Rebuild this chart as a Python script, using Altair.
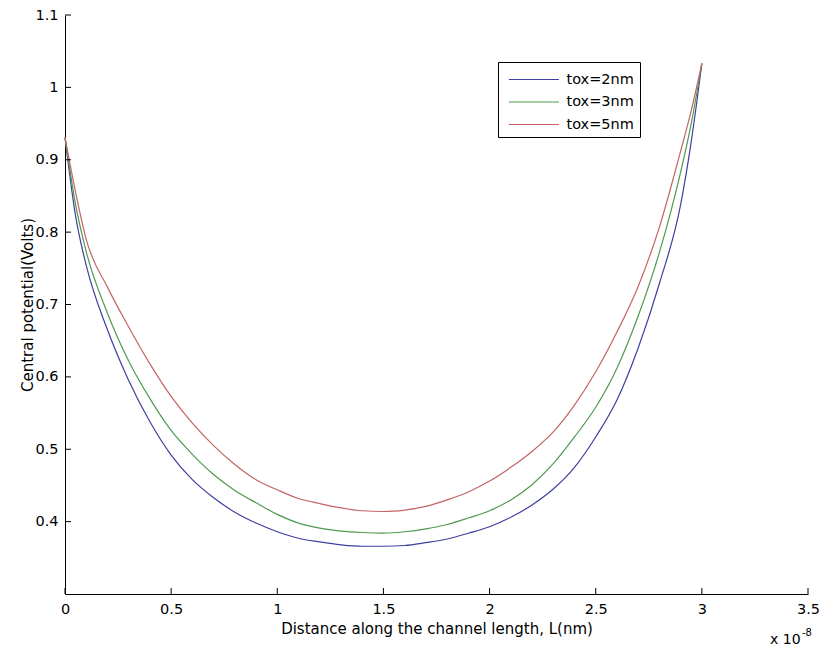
import altair as alt
import pandas as pd

# distance along channel (x 1e-8 m)
x_pos = [0.0, 0.05, 0.1, 0.2, 0.3, 0.4, 0.5, 0.6, 0.7, 0.8, 0.9, 1.0,
         1.1, 1.2, 1.3, 1.4, 1.5, 1.6, 1.7, 1.8, 1.9, 2.0,
         2.1, 2.2, 2.3, 2.4, 2.5, 2.6, 2.7, 2.8, 2.9, 2.95, 3.0]

tox2 = [0.931, 0.822, 0.754, 0.665, 0.595, 0.538, 0.492, 0.458, 0.433, 0.413, 0.398, 0.386,
        0.377, 0.372, 0.368, 0.366, 0.366, 0.367, 0.371, 0.376, 0.384, 0.393,
        0.406, 0.423, 0.445, 0.475, 0.517, 0.568, 0.640, 0.729, 0.838, 0.925, 1.033]

tox3 = [0.931, 0.838, 0.773, 0.688, 0.622, 0.570, 0.526, 0.493, 0.465, 0.443, 0.426, 0.410,
        0.398, 0.391, 0.387, 0.385, 0.384, 0.386, 0.390, 0.396, 0.405, 0.415,
        0.430, 0.451, 0.480, 0.517, 0.558, 0.612, 0.684, 0.772, 0.883, 0.950, 1.033]

tox5 = [0.931, 0.855, 0.790, 0.724, 0.669, 0.618, 0.573, 0.536, 0.505, 0.479, 0.458, 0.444,
        0.432, 0.425, 0.419, 0.415, 0.414, 0.416, 0.421, 0.430, 0.441, 0.456,
        0.475, 0.497, 0.524, 0.561, 0.607, 0.662, 0.725, 0.807, 0.912, 0.968, 1.033]

series_names = ["tox=2nm", "tox=3nm", "tox=5nm"]
series_colors = ["#3f3fa0", "#4f9a4f", "#c46464"]

x_ticks = [0, 0.5, 1, 1.5, 2, 2.5, 3, 3.5]
y_ticks = [0.4, 0.5, 0.6, 0.7, 0.8, 0.9, 1.0, 1.1]

rows = []
for name, vals in zip(series_names, [tox2, tox3, tox5]):
    for xv, yv in zip(x_pos, vals):
        rows.append({"x": xv, "v": yv, "series": name})
df = pd.DataFrame(rows)

FONT = "DejaVu Sans"
xscale = alt.Scale(domain=[0, 3.5], nice=False, zero=False)
yscale = alt.Scale(domain=[0.3, 1.1], nice=False, zero=False)

x_axis = alt.Axis(values=x_ticks, format="~g", ticks=False, grid=False,
                  title="Distance along the channel length, L(nm)",
                  labelPadding=8, titlePadding=6, labelFlush=False)
y_axis = alt.Axis(values=y_ticks, format="~g", ticks=False, grid=False,
                  title="Central potential(Volts)",
                  labelPadding=7, titlePadding=-1, labelFlush=False)

lines = alt.Chart(df).mark_line(strokeWidth=1.2, interpolate="monotone").encode(
    x=alt.X("x:Q", scale=xscale, axis=x_axis),
    y=alt.Y("v:Q", scale=yscale, axis=y_axis),
    color=alt.Color("series:N",
                    scale=alt.Scale(domain=series_names, range=series_colors),
                    legend=alt.Legend(title=None, orient="none", legendX=433, legendY=47,
                                      symbolType="M-0.6,0H3.95", symbolSize=484,
                                      symbolStrokeWidth=1.2,
                                      labelFont=FONT, labelFontSize=14.5,
                                      labelColor="#000000",
                                      strokeColor="#000000", fillColor="#ffffff",
                                      padding=5.5, rowPadding=3.5, labelOffset=39)),
    order=alt.Order("x:Q"),
)

xt = pd.DataFrame({"x": x_ticks})
yt = pd.DataFrame({"v": y_ticks})

xtick_marks = alt.Chart(xt).mark_rule(color="#000000", strokeWidth=1).encode(
    x=alt.X("x:Q", scale=xscale, axis=x_axis),
    y=alt.value(579), y2=alt.value(573),
)
ytick_marks = alt.Chart(yt).mark_rule(color="#000000", strokeWidth=1).encode(
    y=alt.Y("v:Q", scale=yscale, axis=y_axis),
    x=alt.value(0), x2=alt.value(6),
)

exp_base = alt.Chart(pd.DataFrame({"s": ["x 10"]})).mark_text(
    align="left", baseline="alphabetic", font=FONT, fontSize=14, color="#000000"
).encode(text="s:N", x=alt.value(705), y=alt.value(629))
exp_sup = alt.Chart(pd.DataFrame({"s": ["-8"]})).mark_text(
    align="left", baseline="alphabetic", font=FONT, fontSize=10, color="#000000"
).encode(text="s:N", x=alt.value(737), y=alt.value(621))

chart = alt.layer(lines, xtick_marks, ytick_marks, exp_base, exp_sup).properties(
    width=743, height=579,
    padding={"left": 57, "top": 7, "right": 12, "bottom": 52},
    autosize=alt.AutoSizeParams(type="none"),
    background="#ffffff",
).configure_view(stroke=None).configure_axis(
    domainColor="#000000", domainWidth=1,
    labelFont=FONT, labelFontSize=14.5, labelColor="#000000",
    titleFont=FONT, titleFontSize=15, titleFontWeight="normal", titleColor="#000000",
)

chart.save("out.html", embed_options={"renderer": "svg", "actions": False})
